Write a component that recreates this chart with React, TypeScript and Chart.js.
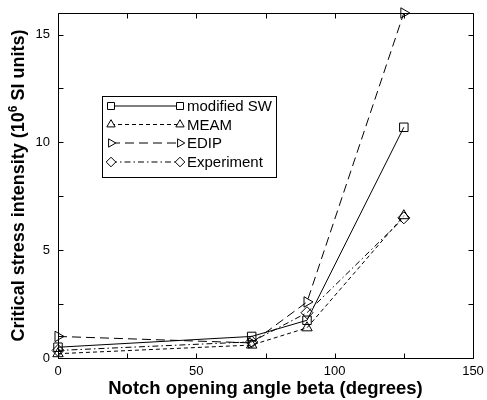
import React, { useEffect, useRef } from "react";
import { Chart, registerables } from "chart.js";

Chart.register(...registerables);

const angles = [0, 70, 90, 125];
const seriesNames = ["modified SW", "MEAM", "EDIP", "Experiment"];
const modifiedSW = [0.5, 1.0, 1.75, 10.7];
const meam = [0.2, 0.6, 1.4, 6.6];
const edip = [1.0, 0.7, 2.6, 16.0];
const experiment = [0.35, 0.75, 2.1, 6.5];
const xTickLabels = [0, 50, 100, 150];
const yTickLabels = [0, 5, 10, 15];

const xTitle = "Notch opening angle beta (degrees)";
const yTitleParts = ["Critical stress intensity (10", "6", " SI units)"];

const FONT = "'Liberation Sans', Arial, Helvetica, sans-serif";

const styles = [
  { pointStyle: "rect", rotation: 0, dash: [] as number[], radius: 6 },
  { pointStyle: "triangle", rotation: 0, dash: [4, 3], radius: 6 },
  { pointStyle: "triangle", rotation: 90, dash: [9, 5], radius: 6 },
  { pointStyle: "rectRot", rotation: 0, dash: [6, 3, 1.5, 3], radius: 6 },
];

const seriesValues = [modifiedSW, meam, edip, experiment];

function drawMarker(ctx: CanvasRenderingContext2D, kind: number, x: number, y: number) {
  ctx.beginPath();
  if (kind === 0) {
    ctx.rect(x - 3.5, y - 3.5, 7, 7);
  } else if (kind === 1) {
    const r = 4.8;
    ctx.moveTo(x, y - r);
    ctx.lineTo(x + r * 0.866, y + r * 0.5);
    ctx.lineTo(x - r * 0.866, y + r * 0.5);
    ctx.closePath();
  } else if (kind === 2) {
    const r = 4.8;
    ctx.moveTo(x + r, y);
    ctx.lineTo(x - r * 0.5, y - r * 0.866);
    ctx.lineTo(x - r * 0.5, y + r * 0.866);
    ctx.closePath();
  } else {
    const r = 4.8;
    ctx.moveTo(x, y - r);
    ctx.lineTo(x + r, y);
    ctx.lineTo(x, y + r);
    ctx.lineTo(x - r, y);
    ctx.closePath();
  }
  ctx.fillStyle = "#fff";
  ctx.fill();
  ctx.stroke();
}

const framePlugin = {
  id: "frame",
  afterDraw(chart: any) {
    const ctx = chart.ctx;
    const { left, right, top, bottom } = chart.chartArea;
    const xs = chart.scales.x;
    const ys = chart.scales.y;
    ctx.save();
    ctx.strokeStyle = "#000";
    ctx.lineWidth = 1;
    ctx.setLineDash([]);
    const L = Math.round(left) + 0.5, R = Math.round(right) + 0.5;
    const T = Math.round(top) + 0.5, B = Math.round(bottom) + 0.5;
    ctx.beginPath();
    ctx.moveTo(L, T);
    ctx.lineTo(R, T);
    ctx.lineTo(R, B);
    ctx.lineTo(L, B);
    ctx.closePath();
    ctx.stroke();
    const tl = 5;
    ctx.beginPath();
    for (let v = 0; v <= 150; v += 25) {
      const px = Math.round(xs.getPixelForValue(v)) + 0.5;
      ctx.moveTo(px, B);
      ctx.lineTo(px, B - tl);
      ctx.moveTo(px, T);
      ctx.lineTo(px, T + tl);
    }
    for (let v = 0; v <= 15; v += 2.5) {
      const py = Math.round(ys.getPixelForValue(v)) + 0.5;
      ctx.moveTo(L, py);
      ctx.lineTo(L + tl, py);
      ctx.moveTo(R, py);
      ctx.lineTo(R - tl, py);
    }
    ctx.stroke();

    // axis titles
    ctx.fillStyle = "#000";
    ctx.font = `bold 18.5px ${FONT}`;
    ctx.textAlign = "center";
    ctx.textBaseline = "alphabetic";
    ctx.fillText(xTitle, (left + right) / 2, 394);

    // y title with superscript
    ctx.save();
    ctx.translate(24, (top + bottom) / 2);
    ctx.rotate(-Math.PI / 2);
    const bigFont = `bold 18px ${FONT}`;
    const smallFont = `bold 12px ${FONT}`;
    ctx.font = bigFont;
    const w0 = ctx.measureText(yTitleParts[0]).width;
    const w2 = ctx.measureText(yTitleParts[2]).width;
    ctx.font = smallFont;
    const w1 = ctx.measureText(yTitleParts[1]).width;
    const total = w0 + w1 + w2;
    let x = -total / 2;
    ctx.textAlign = "left";
    ctx.font = bigFont;
    ctx.fillText(yTitleParts[0], x, 0);
    x += w0;
    ctx.font = smallFont;
    ctx.fillText(yTitleParts[1], x, -7);
    x += w1;
    ctx.font = bigFont;
    ctx.fillText(yTitleParts[2], x, 0);
    ctx.restore();

    // legend
    const bx = 102.5, by = 96.5, bw = 174, bh = 81;
    ctx.fillStyle = "#fff";
    ctx.fillRect(bx, by, bw, bh);
    ctx.strokeStyle = "#000";
    ctx.lineWidth = 1;
    ctx.strokeRect(bx, by, bw, bh);
    const rows = [106, 124.5, 143, 162];
    const x1 = 111, x2 = 180;
    seriesNames.forEach((name, i) => {
      const st = styles[i];
      const y = rows[i];
      ctx.strokeStyle = "#000";
      ctx.lineWidth = 1;
      ctx.setLineDash(st.dash);
      ctx.beginPath();
      ctx.moveTo(x1, y);
      ctx.lineTo(x2, y);
      ctx.stroke();
      ctx.setLineDash([]);
      drawMarker(ctx, i, x1, y);
      drawMarker(ctx, i, x2, y);
      ctx.fillStyle = "#000";
      ctx.font = `15px ${FONT}`;
      ctx.textAlign = "left";
      ctx.textBaseline = "middle";
      ctx.fillText(name, 187, y + 1);
    });
    ctx.restore();
  },
};

export default function App() {
  const ref = useRef<HTMLCanvasElement | null>(null);
  useEffect(() => {
    document.body.style.margin = "0";
    const canvas = ref.current!;
    const chart = new Chart(canvas, {
      type: "line",
      data: {
        datasets: seriesNames.map((name, i) => ({
          label: name,
          data: angles.map((a, j) => ({ x: a, y: seriesValues[i][j] })),
          borderColor: "#000",
          backgroundColor: "rgba(0,0,0,0)",
          borderWidth: 1,
          borderDash: styles[i].dash,
          pointStyle: styles[i].pointStyle as any,
          rotation: styles[i].rotation,
          pointRadius: styles[i].radius,
          pointBorderWidth: 1,
          pointBorderColor: "#000",
          pointBackgroundColor: "rgba(0,0,0,0)",
          tension: 0,
          fill: false,
          clip: false as any,
        })),
      },
      options: {
        animation: false,
        responsive: false,
        devicePixelRatio: 1,
        layout: { padding: { top: 13, right: 14, left: 0, bottom: 0 } },
        plugins: {
          legend: { display: false },
          tooltip: { enabled: false },
          title: { display: false },
        },
        scales: {
          x: {
            type: "linear",
            min: 0,
            max: 150,
            afterFit: (s: any) => {
              s.height = 42;
              s.paddingLeft = 0;
              s.paddingRight = 0;
            },
            grid: { display: false, drawTicks: false },
            border: { display: false },
            afterBuildTicks: (s: any) => { s.ticks = xTickLabels.map((v) => ({ value: v })); },
            ticks: {
              padding: 6,
              color: "#000",
              font: { family: FONT, size: 13 },
              maxRotation: 0,
              autoSkip: false,
              callback: (v: any) => String(v),
            },
          },
          y: {
            type: "linear",
            min: 0,
            max: 16,
            afterFit: (s: any) => {
              s.width = 58;
              s.paddingTop = 0;
              s.paddingBottom = 0;
            },
            grid: { display: false, drawTicks: false },
            border: { display: false },
            afterBuildTicks: (s: any) => { s.ticks = yTickLabels.map((v) => ({ value: v })); },
            ticks: {
              padding: 8,
              color: "#000",
              font: { family: FONT, size: 13 },
              autoSkip: false,
              callback: (v: any) => String(v),
            },
          },
        },
      },
      plugins: [framePlugin],
    });
    return () => chart.destroy();
  }, []);
  return (
    <div style={{ position: "absolute", left: 0, top: 0, width: 487, height: 400, background: "#fff" }}>
      <canvas ref={ref} width={487} height={400} style={{ width: 487, height: 400, display: "block" }} />
    </div>
  );
}
